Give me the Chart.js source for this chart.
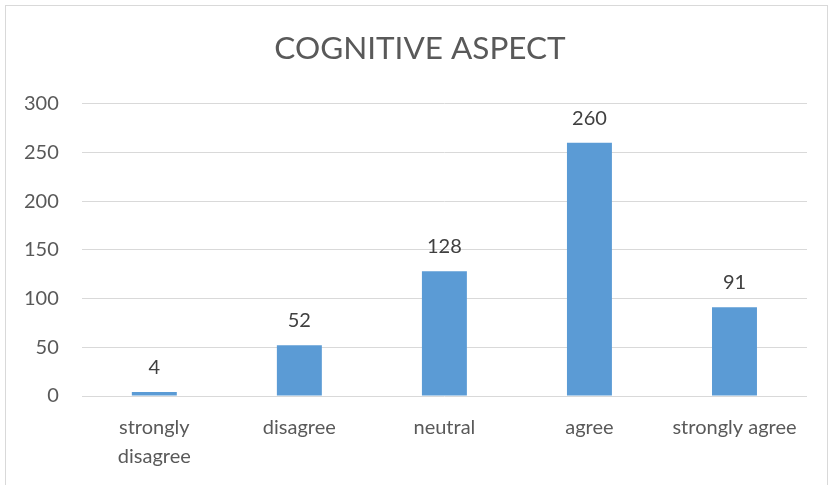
<!DOCTYPE html>
<html>
<head>
<meta charset="utf-8">
<script src="https://cdn.jsdelivr.net/npm/chart.js@4.4.1/dist/chart.umd.min.js"></script>
<style>
  html, body { margin: 0; padding: 0; background: #fff; overflow: hidden; }
  #box {
    position: absolute; left: 5px; top: 5px;
    width: 823px; height: 490px;
    border: 1px solid #d9d9d9; box-sizing: border-box;
  }
  #chart { position: absolute; left: -5px; top: 0; }
</style>
</head>
<body>
<div id="box"><canvas id="chart" width="838" height="488"></canvas></div>
<script>
// chart data
const categories = [['strongly', 'disagree'], 'disagree', 'neutral', 'agree', 'strongly agree'];
const counts = [4, 52, 128, 260, 91];
const yTicks = [0, 50, 100, 150, 200, 250, 300];

const fontFamily = 'Lato, "Noto Sans", sans-serif';

// value labels above each bar
const barLabels = {
  id: 'barLabels',
  afterDatasetsDraw(chart) {
    const ctx = chart.ctx;
    const meta = chart.getDatasetMeta(0);
    ctx.save();
    ctx.font = '20px ' + fontFamily;
    ctx.fillStyle = '#404040';
    ctx.textAlign = 'center';
    ctx.textBaseline = 'alphabetic';
    meta.data.forEach((bar, i) => {
      ctx.fillText(chart.data.datasets[0].data[i], bar.x, bar.y - 18);
    });
    ctx.restore();
  }
};

new Chart(document.getElementById('chart'), {
  type: 'bar',
  data: {
    labels: categories,
    datasets: [{
      data: counts,
      backgroundColor: '#5b9bd5',
      categoryPercentage: 0.31,
      barPercentage: 1
    }]
  },
  options: {
    responsive: false,
    animation: false,
    layout: { padding: { left: 0, right: 0, top: 0, bottom: 6 } },
    plugins: {
      legend: { display: false },
      tooltip: { enabled: false },
      title: {
        display: true,
        text: 'COGNITIVE ASPECT',
        color: '#595959',
        font: { family: fontFamily, size: 31.5, weight: 'normal' },
        padding: { top: 24, bottom: 36 }
      }
    },
    scales: {
      x: {
        grid: { display: false, drawTicks: false },
        border: { display: false },
        ticks: {
          color: '#595959',
          font: { family: fontFamily, size: 20, lineHeight: 1.45 },
          padding: 17,
          maxRotation: 0,
          autoSkip: false
        }
      },
      y: {
        min: 0,
        max: 300,
        afterBuildTicks(axis) { axis.ticks = yTicks.map(v => ({ value: v })); },
        grid: { color: '#d9d9d9', lineWidth: 1, drawTicks: false },
        border: { display: false },
        ticks: {
          color: '#595959',
          font: { family: fontFamily, size: 20 },
          padding: 23
        }
      },
      // empty right-hand spacer so the title stays centred on the whole canvas
      spacer: {
        type: 'linear',
        position: 'right',
        grid: { display: false, drawTicks: false },
        border: { display: false },
        ticks: { display: false },
        afterFit(scale) { scale.width = 32; }
      }
    }
  },
  plugins: [barLabels]
});
</script>
</body>
</html>
